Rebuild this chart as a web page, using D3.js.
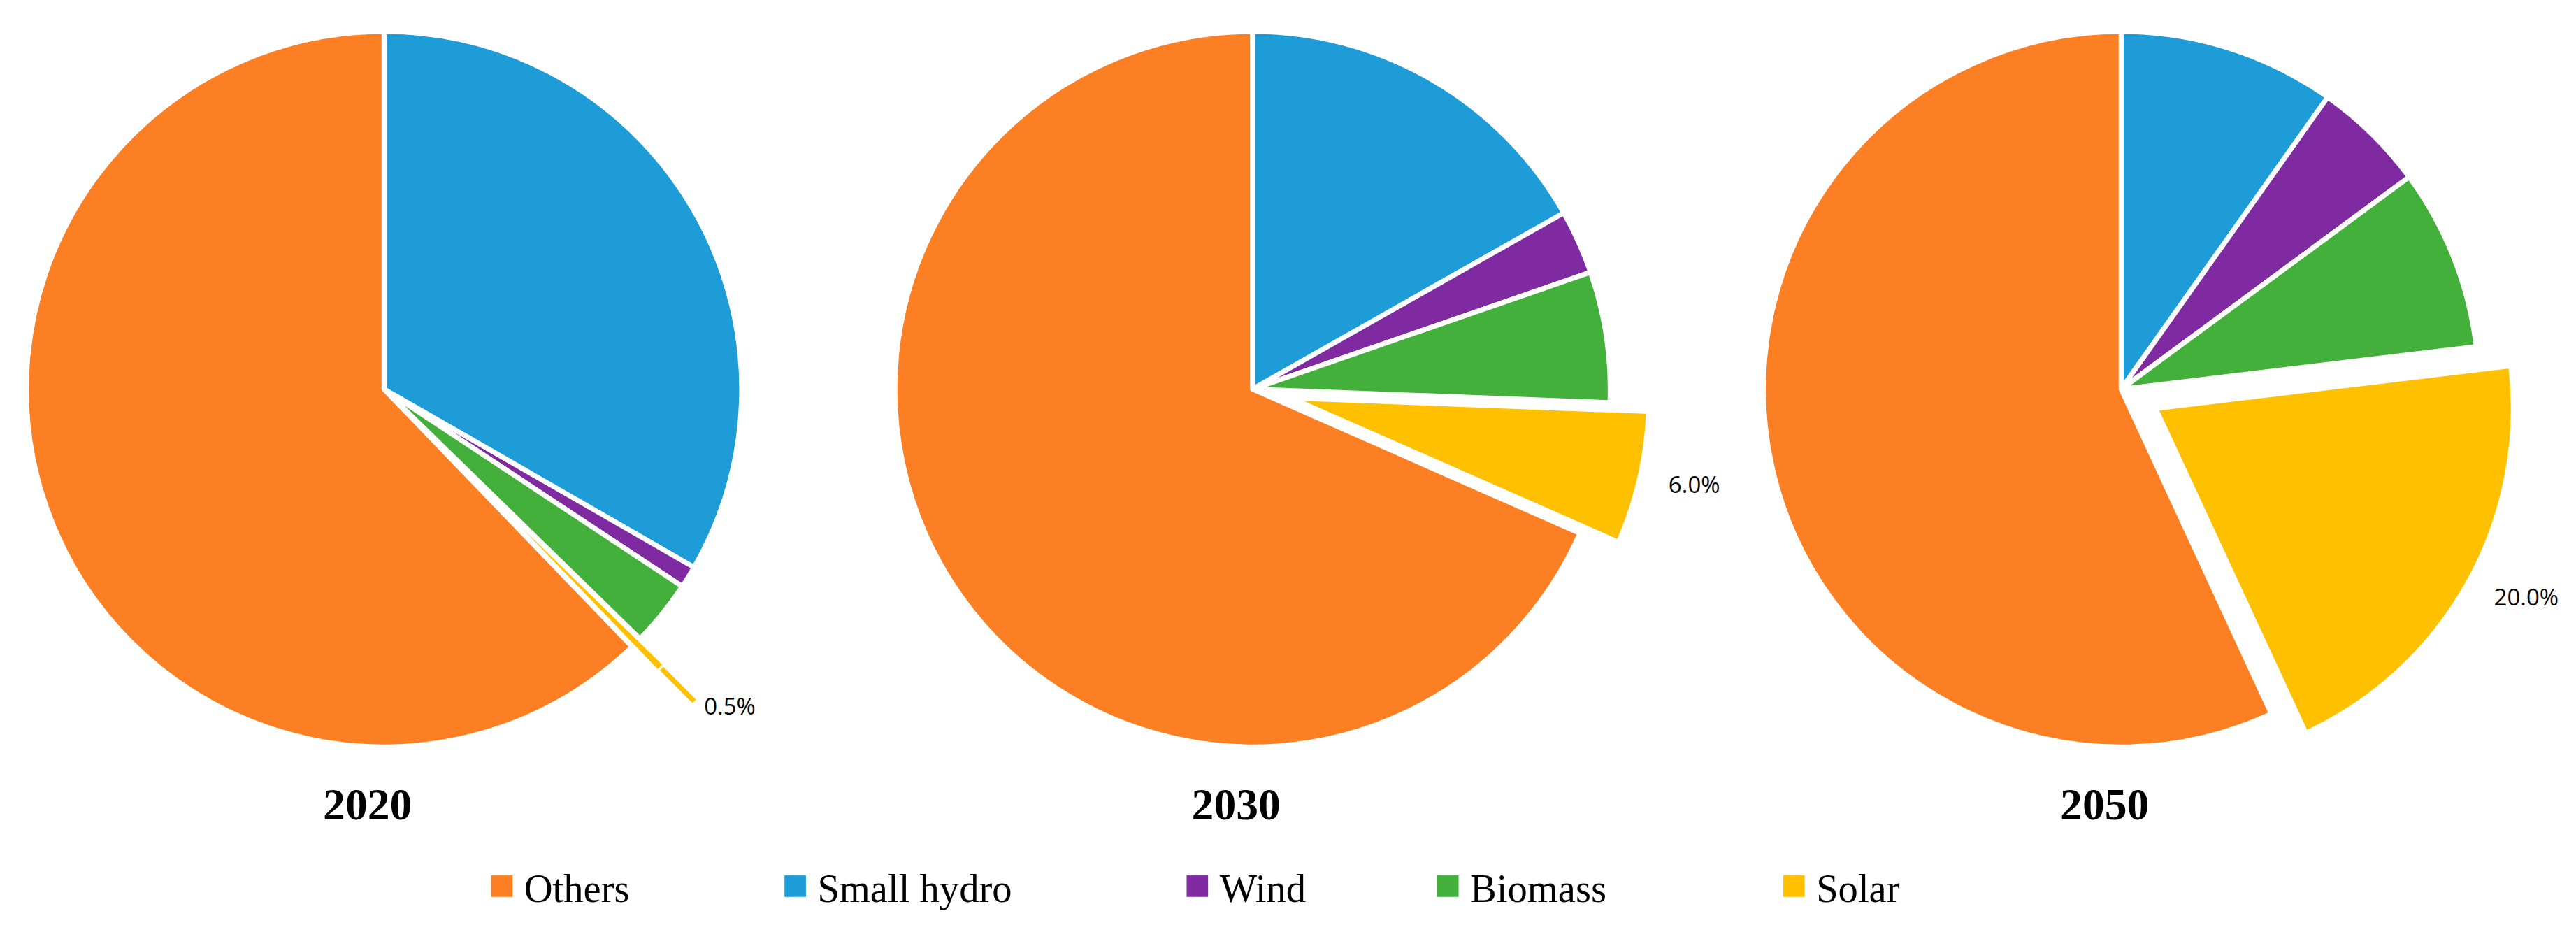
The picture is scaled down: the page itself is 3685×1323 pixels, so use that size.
<!DOCTYPE html>
<html lang="en">
<head>
<meta charset="UTF-8">
<script src="https://d3js.org/d3.v7.min.js"></script>
<style>
  body { margin: 0; background: #fff; }
  svg { display: block; }
  .year { font-family: "Liberation Serif", serif; font-weight: bold; font-size: 27px; }
  .legend text { font-family: "Liberation Serif", serif; font-size: 24px; }
  .lbl { font-family: "Open Sans", sans-serif; font-size: 14px; }
</style>
</head>
<body>
<svg id="chart" width="3685" height="1323" viewBox="0 0 1563 561"></svg>
<script>
const categories = ['Small hydro', 'Wind', 'Biomass', 'Solar', 'Others'];
const legendOrder = ['Others', 'Small hydro', 'Wind', 'Biomass', 'Solar'];
const years = ['2020', '2030', '2050'];
const shares2020 = [33.3, 1.0, 3.0, 0.5, 62.2];
const shares2030 = [16.8, 2.9, 5.9, 6.0, 68.4];
const shares2050 = [9.8, 5.1, 8.2, 20.0, 56.9];
const solarLabels = ['0.5%', '6.0%', '20.0%'];
const colors = { 'Others': '#fd7f23', 'Small hydro': '#1e9cd8', 'Wind': '#7f2aa1', 'Biomass': '#44b03c', 'Solar': '#ffc000' };

const svg = d3.select('#chart');
const radius = 217;
const xPos = d3.scalePoint().domain(years).range([233, 1287]);
const explode = [22, 24, 24];
const pie = d3.pie().sort(null).value(d => d.v);
const arc = d3.arc().innerRadius(0).outerRadius(radius);

[shares2020, shares2030, shares2050].forEach((vals, i) => {
  const cx = xPos(years[i]), cy = 236;
  const g = svg.append('g').attr('transform', `translate(${cx},${cy})`);
  const arcs = pie(vals.map((v, k) => ({ c: categories[k], v })));
  arcs.forEach(a => {
    const mid = (a.startAngle + a.endAngle) / 2;
    const off = a.data.c === 'Solar' ? explode[i] : 0;
    g.append('path')
      .attr('d', arc(a))
      .attr('transform', `translate(${Math.sin(mid) * off},${-Math.cos(mid) * off})`)
      .attr('fill', colors[a.data.c])
      .attr('stroke', '#fff')
      .attr('stroke-width', 3)
      .attr('stroke-linejoin', 'round');
    if (a.data.c === 'Solar') {
      const r0 = radius + off;
      if (i === 0) {
        const r1 = radius + 50;
        g.append('line')
          .attr('x1', Math.sin(mid) * r0).attr('y1', -Math.cos(mid) * r0)
          .attr('x2', Math.sin(mid) * r1).attr('y2', -Math.cos(mid) * r1)
          .attr('stroke', colors.Solar).attr('stroke-width', 3);
        g.append('text').attr('class', 'lbl')
          .attr('x', Math.sin(mid) * r1 + 6).attr('y', -Math.cos(mid) * r1 + 8)
          .text(solarLabels[i]);
      } else {
        const r1 = radius + off + 18;
        g.append('text').attr('class', 'lbl')
          .attr('x', Math.sin(mid) * r1).attr('y', -Math.cos(mid) * r1 + 5)
          .text(solarLabels[i]);
      }
    }
  });
  svg.append('text').attr('class', 'year')
    .attr('x', cx - 10).attr('y', 497)
    .attr('text-anchor', 'middle').text(years[i]);
});

const legX = d3.scaleOrdinal().domain(legendOrder).range([298, 476, 720, 872, 1082]);
const leg = svg.append('g').attr('class', 'legend');
legendOrder.forEach(c => {
  leg.append('rect').attr('x', legX(c)).attr('y', 531).attr('width', 13).attr('height', 13).attr('fill', colors[c]);
  leg.append('text').attr('x', legX(c) + 20).attr('y', 547).text(c);
});
</script>
</body>
</html>
